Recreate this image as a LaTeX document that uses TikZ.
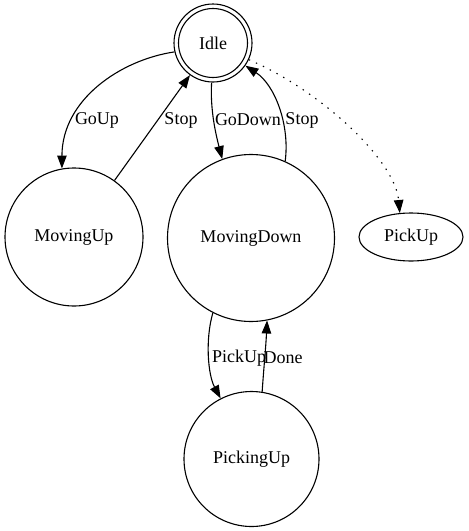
\documentclass[tikz,border=0pt]{standalone}
\usepackage{fontspec}
\setmainfont{Liberation Serif}
\usetikzlibrary{arrows.meta,shapes.geometric}
\begin{document}
\begin{tikzpicture}[x=1pt,y=-1pt,
  state/.style={draw,circle,line width=1.1pt,inner sep=0pt,font=\fontsize{18}{20}\selectfont},
  oval/.style={draw,ellipse,line width=1.1pt,inner sep=0pt,minimum width=104pt,minimum height=48pt,font=\fontsize{18}{20}\selectfont},
  edge/.style={line width=1.1pt,-{Triangle[length=13pt,width=9.5pt]}},
  dotline/.style={dash pattern=on 1.4pt off 6.3pt},
  lbl/.style={inner sep=0pt,font=\fontsize{18}{20}\selectfont}]
\useasboundingbox (0,0) rectangle (469,531);
\node[state,minimum size=78pt] (Idle) at (213,43) {Idle};
\draw[line width=1.1pt] (Idle.center) circle[radius=34.5pt];
\node[state,minimum size=138pt] (MovingUp) at (74,237) {MovingUp};
\node[state,minimum size=167pt] (MovingDown) at (251,238) {MovingDown};
\node[oval] (PickUp) at (411,237) {PickUp};
\node[state,minimum size=135pt] (PickingUp) at (251.5,459) {PickingUp};
% edges
\draw[edge] (Idle.193) .. controls (120,60) and (62,100) .. (MovingUp.100);
\draw[edge] (MovingUp) -- (Idle);
\draw[edge] (Idle.-92) .. controls (210,110) and (216,135) .. (MovingDown.110);
\draw[edge] (MovingDown.66) .. controls (290,125) and (275,85) .. (Idle.-35);
\draw[edge,dotline] (Idle.-25) .. controls (320,90) and (395,160) .. (PickUp.115);
\draw[edge] (MovingDown.243) .. controls (205,340) and (208,375) .. (PickingUp.117);
\draw[edge] (PickingUp.81) .. controls (264,365) and (266,345) .. (MovingDown.-79);
% labels
\node[lbl] (lGoUp) at (97,120) {GoUp};
\node[lbl] (lStop1) at (181,120) {Stop};
\node[lbl] (lGoDown) at (248,120) {GoDown};
\node[lbl] (lStop2) at (302,120) {Stop};
\node[lbl] (lPickUp) at (239,358) {PickUp};
\node[lbl] (lDone) at (283,358) {Done};
\end{tikzpicture}
\end{document}
